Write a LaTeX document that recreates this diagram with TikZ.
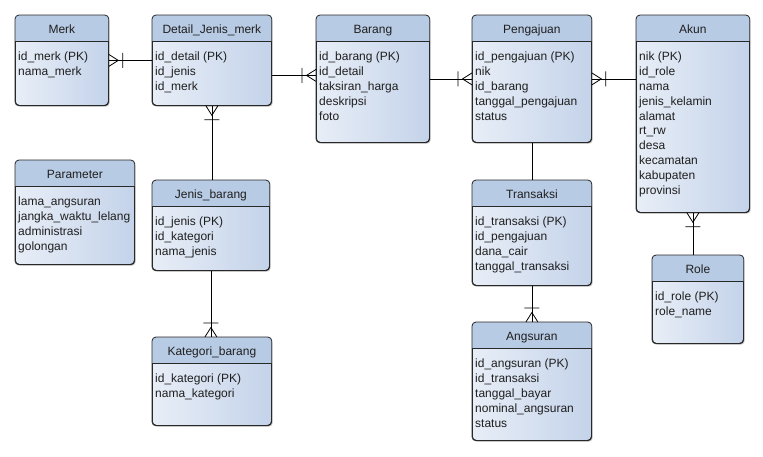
\documentclass[tikz,border=0pt]{standalone}
\usepackage{fontspec}
\setmainfont{Liberation Sans}
\usetikzlibrary{shadows}

\definecolor{erline}{RGB}{40,40,40}
\definecolor{erhead}{RGB}{184,203,228}
\definecolor{erbodyl}{RGB}{232,238,247}
\definecolor{erbodyr}{RGB}{196,211,234}

\pgfdeclarearrow{
	name = CrowOne,
	setup code = {
		\pgfarrowssettipend{0pt}
		\pgfarrowssetlineend{0pt}
		\pgfarrowssetbackend{-15pt}
		\pgfarrowshullpoint{0pt}{7.5pt}
		\pgfarrowshullpoint{-15pt}{7.5pt}
		\pgfarrowshullpoint{-15pt}{-7.5pt}
		\pgfarrowshullpoint{0pt}{-7.5pt}
	},
	drawing code = {
		\pgfsetdash{}{0pt}
		\pgfpathmoveto{\pgfqpoint{0pt}{6pt}}
		\pgfpathlineto{\pgfqpoint{-9.5pt}{0pt}}
		\pgfpathlineto{\pgfqpoint{0pt}{-6pt}}
		\pgfpathmoveto{\pgfqpoint{-14pt}{7.5pt}}
		\pgfpathlineto{\pgfqpoint{-14pt}{-7.5pt}}
		\pgfusepathqstroke
	}
}

\tikzset{
	erbox/.style={draw=erline, line width=0.8pt, rounded corners=4pt, anchor=north west, inner sep=0pt,
		left color=erbodyl, right color=erbodyr,
		drop shadow={opacity=0.25, shadow xshift=1.5pt, shadow yshift=-1.5pt}},
	ertitle/.style={anchor=base, inner sep=0pt, text=black!88, font=\fontsize{12}{14.8}\selectfont},
	erfields/.style={anchor=north west, align=left, inner sep=0pt, text=black!88, font=\fontsize{12}{14.8}\selectfont},
	rel/.style={draw=black, line width=0.8pt},
	tomany/.style={rel, -{CrowOne}},
}

% name, x, y, width, height, title, fields
\newcommand{\erentity}[7]{%
	\node[erbox, minimum width=#4pt, minimum height=#5pt] (#1) at (#2,#3) {};
	\begin{scope}
		\clip[rounded corners=4pt] (#1.north west) rectangle (#1.south east);
		\fill[erhead] (#1.north west) rectangle ([yshift=-26pt]#1.north east);
	\end{scope}
	\draw[erline, line width=0.8pt, rounded corners=4pt] (#1.north west) rectangle (#1.south east);
	\draw[erline, line width=0.8pt] ([yshift=-26pt]#1.north west) -- ([yshift=-26pt]#1.north east);
	\node[ertitle] (#1-title) at ([yshift=-18.3pt]#1.north) {#6};
	\node[erfields] (#1-fields) at ([xshift=3pt,yshift=-37pt]#1.north west) {#7};
}

\begin{document}
\begin{tikzpicture}[x=1pt,y=-1pt]
	\path[fill=white, use as bounding box] (0,0) rectangle (763,456);

	\erentity{merk}{15}{15}{93}{90}{Merk}{id\_merk (PK)\\nama\_merk}
	\erentity{detail}{152}{15}{119}{90}{Detail\_Jenis\_merk}{id\_detail (PK)\\id\_jenis\\id\_merk}
	\erentity{barang}{316}{15}{113}{127}{Barang}{id\_barang (PK)\\id\_detail\\taksiran\_harga\\deskripsi\\foto}
	\erentity{pengajuan}{472}{15}{119}{127}{Pengajuan}{id\_pengajuan (PK)\\nik\\id\_barang\\tanggal\_pengajuan\\status}
	\erentity{akun}{636}{15}{113}{197}{Akun}{nik (PK)\\id\_role\\nama\\jenis\_kelamin\\alamat\\rt\_rw\\desa\\kecamatan\\kabupaten\\provinsi}
	\erentity{parameter}{15}{160}{119}{104}{Parameter}{lama\_angsuran\\jangka\_waktu\_lelang\\administrasi\\golongan}
	\erentity{jenis}{152}{180}{117}{90}{Jenis\_barang}{id\_jenis (PK)\\id\_kategori\\nama\_jenis}
	\erentity{kategori}{152}{337}{119}{88}{Kategori\_barang}{id\_kategori (PK)\\nama\_kategori}
	\erentity{transaksi}{472}{180}{119}{105}{Transaksi}{id\_transaksi (PK)\\id\_pengajuan\\dana\_cair\\tanggal\_transaksi}
	\erentity{angsuran}{472}{322}{119}{118}{Angsuran}{id\_angsuran (PK)\\id\_transaksi\\tanggal\_bayar\\nominal\_angsuran\\status}
	\erentity{role}{652}{255}{91}{88}{Role}{id\_role (PK)\\role\_name}

	\draw[tomany] (detail.west) -- (merk.east);
	\draw[tomany] ([yshift=-15pt]detail.east) coordinate (db) -- (db -| barang.west);
	\draw[tomany] (barang.east) -- (pengajuan.west);
	\draw[tomany] (akun.west |- pengajuan.east) -- (pengajuan.east);
	\draw[tomany] (jenis.north -| detail.south) -- (detail.south);
	\draw[tomany] (jenis.south) -- (kategori.north -| jenis.south);
	\draw[rel] (pengajuan.south) -- (transaksi.north);
	\draw[tomany] (transaksi.south) -- (angsuran.north);
	\draw[tomany] (role.north -| akun.south) -- (akun.south);
\end{tikzpicture}
\end{document}
